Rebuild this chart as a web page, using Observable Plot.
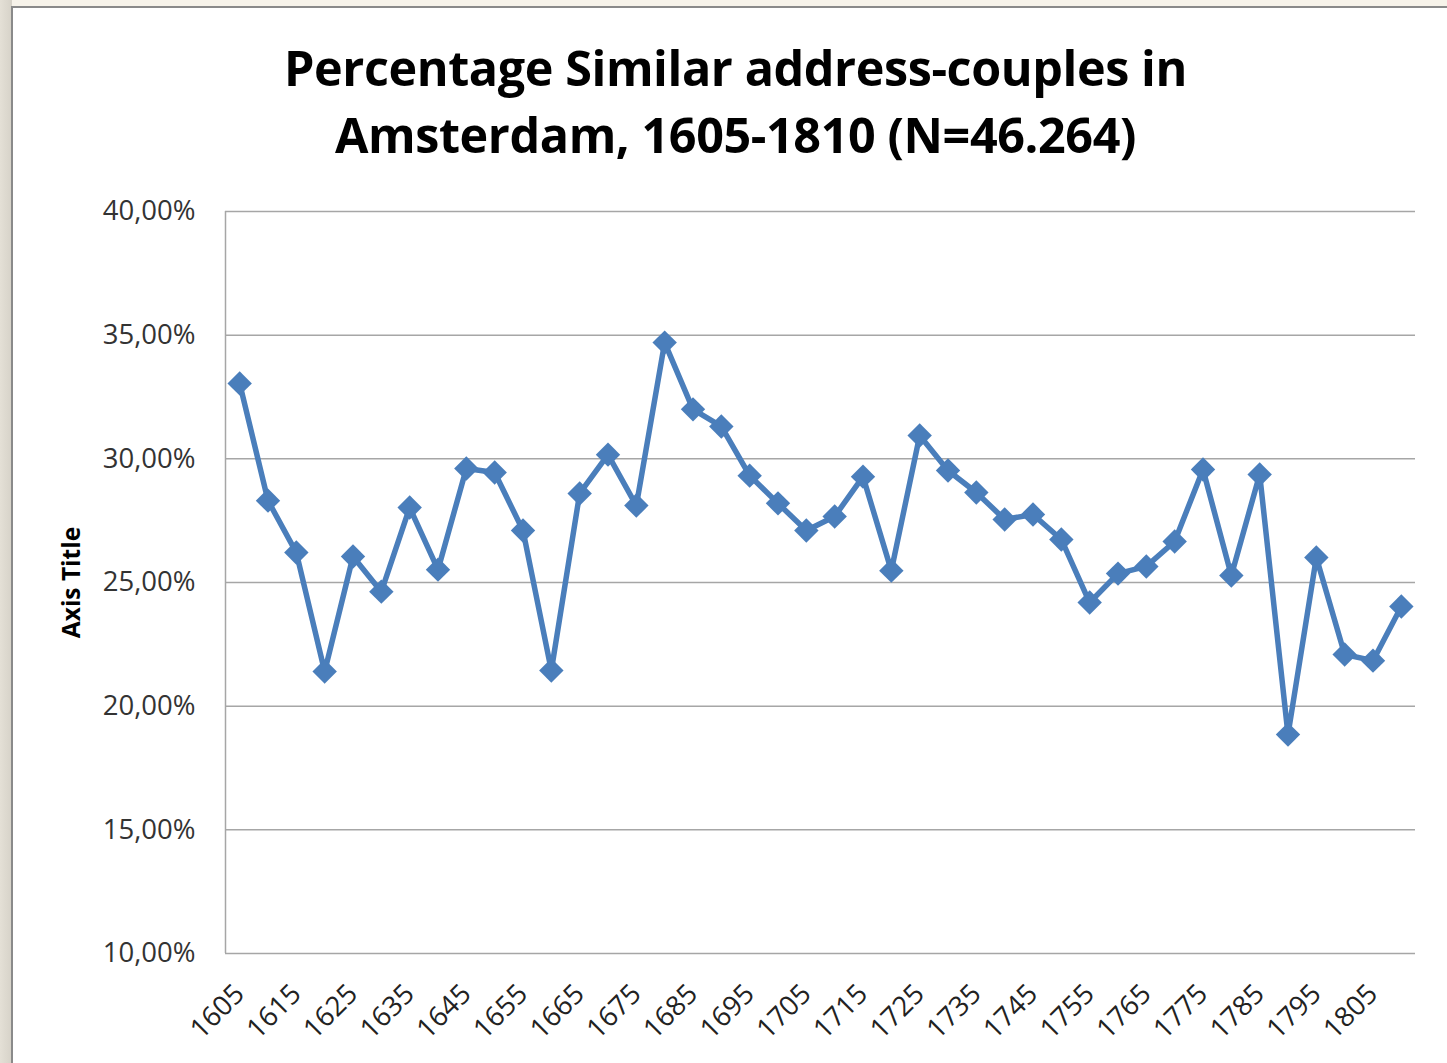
<!DOCTYPE html>
<html>
<head>
<meta charset="utf-8">
<script src="https://cdn.jsdelivr.net/npm/d3@7"></script>
<script src="https://cdn.jsdelivr.net/npm/@observablehq/plot@0.6"></script>
<style>
  html, body { margin: 0; padding: 0; }
  body { width: 1447px; height: 1063px; background: #f7f3ea; position: relative; overflow: hidden; font-family: "Open Sans", sans-serif; }
  #leftstrip { position: absolute; left: 0; top: 0; width: 12px; height: 1063px; background: linear-gradient(90deg, #e4e0d6, #d6d2c8); }
  #panel { position: absolute; left: 11px; top: 6px; width: 1440px; height: 1060px; background: #fff; border-left: 2px solid #8a8a8a; border-top: 2px solid #8a8a8a; }
  #title { position: absolute; left: 12px; width: 1447px; top: 34px; text-align: center; font-family: "Open Sans", sans-serif; font-weight: 700; font-size: 48.5px; line-height: 67px; color: #000; letter-spacing: -0.4px; }
  #chart { position: absolute; left: 0; top: 180px; }
</style>
</head>
<body>
<div id="leftstrip"></div>
<div id="panel"></div>
<div id="title">Percentage Similar address-couples in<br>Amsterdam, 1605-1810 (N=46.264)</div>
<div id="chart"></div>
<script>
const years = [1605,1610,1615,1620,1625,1630,1635,1640,1645,1650,1655,1660,1665,1670,1675,1680,1685,1690,1695,1700,1705,1710,1715,1720,1725,1730,1735,1740,1745,1750,1755,1760,1765,1770,1775,1780,1785,1790,1795,1800,1805,1810];
const values = [33.05,28.31,26.21,21.40,26.05,24.63,28.03,25.52,29.61,29.45,27.10,21.44,28.60,30.17,28.11,34.70,32.00,31.31,29.32,28.20,27.10,27.67,29.28,25.48,30.94,29.53,28.64,27.55,27.75,26.74,24.19,25.36,25.65,26.66,29.57,25.28,29.37,18.85,26.01,22.09,21.84,24.03];
const yTicks = [10,15,20,25,30,35,40];
const xTickLabels = [1605,1615,1625,1635,1645,1655,1665,1675,1685,1695,1705,1715,1725,1735,1745,1755,1765,1775,1785,1795,1805];

const data = years.map((y, i) => ({year: y, pct: values[i]}));
const blue = "#4a7ebb";
const grid = "#a6a6a6";

const chart = Plot.plot({
  width: 1447,
  height: 883,
  marginLeft: 225,
  marginRight: 32,
  marginTop: 31,
  marginBottom: 110,
  style: {fontFamily: "Open Sans, sans-serif", fontSize: "27px", color: "#333", background: "transparent"},
  x: {domain: [1602.5, 1812.5], label: null},
  y: {domain: [10, 40], label: null},
  marks: [
    Plot.ruleY(yTicks, {stroke: grid, strokeWidth: 1.5}),
    Plot.ruleX([1602.5], {stroke: grid, strokeWidth: 1.5}),
    Plot.axisY({ticks: yTicks, tickSize: 0, tickPadding: 30, tickFormat: d => d.toFixed(2).replace(".", ",") + "%", fontSize: 27.5, fill: "#333"}),
    Plot.axisX({ticks: xTickLabels, tickSize: 0, tickPadding: 36, tickRotate: -45, tickFormat: d => String(d), fontSize: 27.5, fill: "#222"}),
    Plot.text(["Axis Title"], {frameAnchor: "left", textAnchor: "middle", dx: -153, rotate: -90, fontWeight: "bold", fontSize: 24.5, fill: "#000"}),
    Plot.line(data, {x: "year", y: "pct", stroke: blue, strokeWidth: 5.5, strokeLinejoin: "round"}),
    Plot.dot(data, {x: "year", y: "pct", symbol: "diamond2", r: 11, fill: blue, stroke: null})
  ]
});
document.getElementById("chart").appendChild(chart);
</script>
</body>
</html>
